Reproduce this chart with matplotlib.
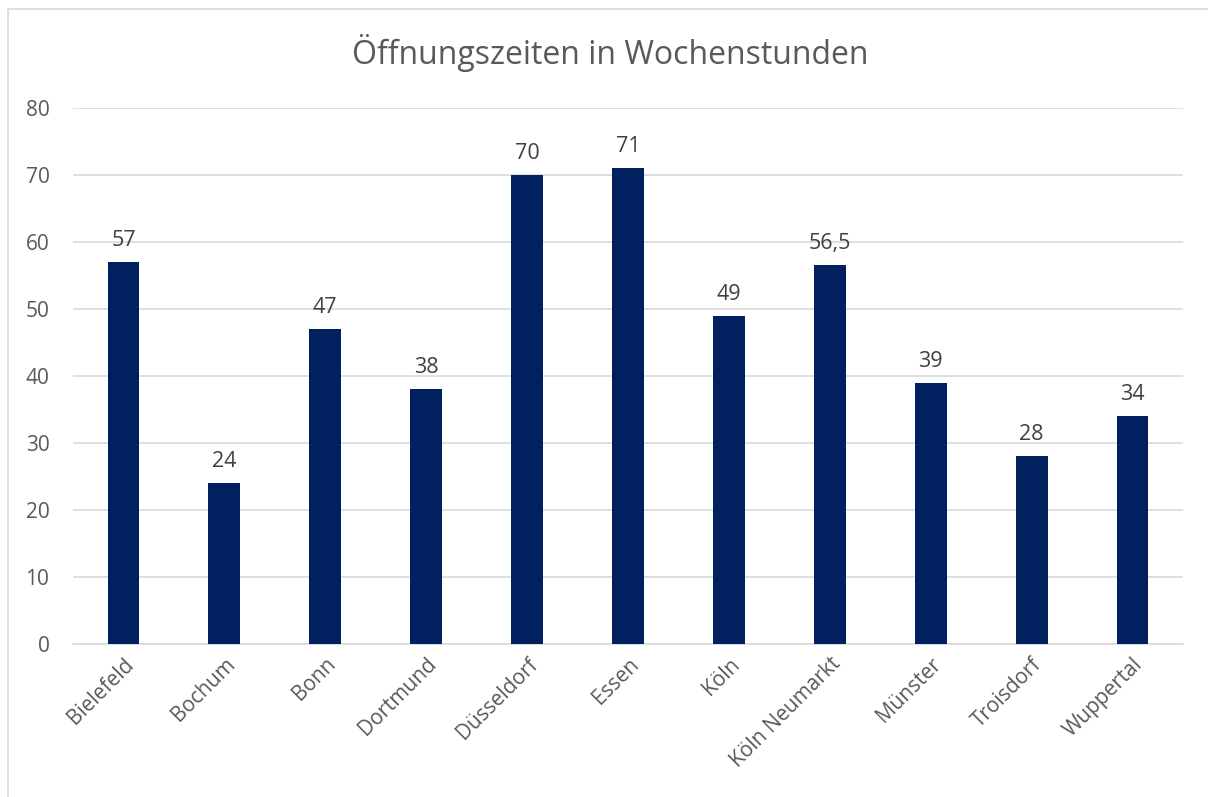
import matplotlib.pyplot as plt
from matplotlib.patches import Rectangle

staedte = ["Bielefeld", "Bochum", "Bonn", "Dortmund", "Düsseldorf", "Essen",
           "Köln", "Köln Neumarkt", "Münster", "Troisdorf", "Wuppertal"]
stunden = [57, 24, 47, 38, 70, 71, 49, 56.5, 39, 28, 34]
y_ticks = [0, 10, 20, 30, 40, 50, 60, 70, 80]

plt.rcParams["font.family"] = ["Open Sans", "DejaVu Sans"]

W, H = 1208, 797
fig = plt.figure(figsize=(W / 100, H / 100), dpi=100)
ax = fig.add_axes([73 / W, 1 - 644 / H, (1183 - 73) / W, (644 - 108) / H])

x = range(len(staedte))
ax.bar(x, stunden, width=0.315, color="#002060", zorder=3)
for xi, v in zip(x, stunden):
    label = f"{v:g}".replace(".", ",")
    ax.annotate(label, (xi, v), xytext=(0, 8), textcoords="offset points",
                ha="center", va="bottom", fontsize=15.5, color="#404040")

ax.set_xlim(-0.5, len(staedte) - 0.5)
ax.set_ylim(0, 80)
ax.set_yticks(y_ticks)
ax.set_xticks(list(x))
ax.set_xticklabels(staedte, rotation=45, ha="right", rotation_mode="anchor")
ax.tick_params(axis="x", length=0, pad=7, labelsize=15, labelcolor="#595959")
ax.tick_params(axis="y", length=0, pad=17, labelsize=15, labelcolor="#595959")
ax.grid(axis="y", color="#d9d9d9", linewidth=1.2, zorder=0)
for s in ["top", "right", "left"]:
    ax.spines[s].set_visible(False)
ax.spines["bottom"].set_color("#d9d9d9")
ax.spines["bottom"].set_linewidth(1.2)

fig.text(610 / W, 1 - 53 / H, "Öffnungszeiten in Wochenstunden",
         ha="center", va="center", fontsize=23, color="#595959")

fig.patches.append(Rectangle((8 / W, -0.1), 1.2, 1 - 9 / H + 0.1,
                             transform=fig.transFigure, fill=False,
                             edgecolor="#d9d9d9", linewidth=1.2))

fig.savefig("out.png", dpi=100)
